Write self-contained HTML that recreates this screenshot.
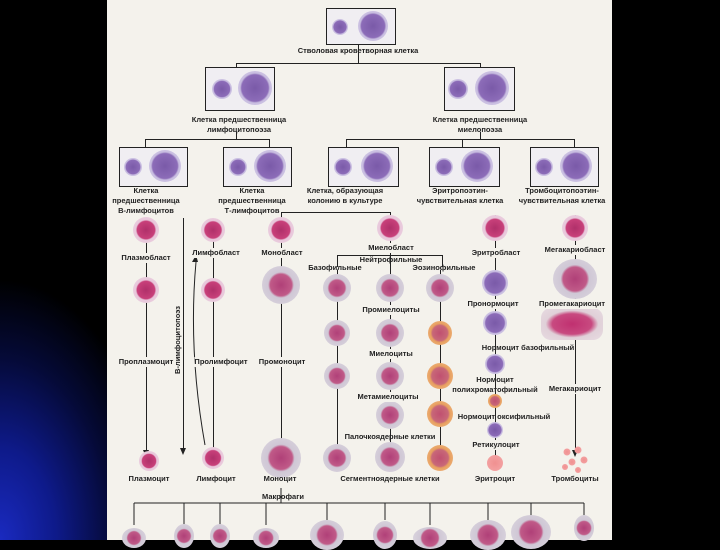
<!DOCTYPE html>
<html><head><meta charset="utf-8"><style>
html,body{margin:0;padding:0}
body{width:720px;height:540px;position:relative;overflow:hidden;background:#000;font-family:"Liberation Sans","DejaVu Sans",sans-serif}
#bg{position:absolute;left:0;top:0;width:108px;height:540px;background:radial-gradient(ellipse 160px 260px at 0% 100%,#1a2ac0 0%,#0e1a8a 35%,#050a38 70%,#000 100%)}
#panel{position:absolute;left:107px;top:0;width:505px;height:540px;background:#f4f2ec}
.b{position:absolute;border:1.5px solid #222;background:#f0eef2}
.c{position:absolute;border-radius:50%;transform:translate(-50%,-50%)}
.p{background:radial-gradient(circle,#b0306a 0%,#c8407a 48%,#e8c6da 55%,#ecd8e4 100%)}
.v{background:radial-gradient(circle,#7a5aa8 0%,#8c6cb8 55%,#c8bde0 62%,#dcd4ec 100%)}
.g{background:radial-gradient(circle,#b04078 0%,#c05a88 40%,#cfc7d5 48%,#ddd8e0 100%)}
.o{background:radial-gradient(circle,#c05070 0%,#c86878 45%,#e8a060 55%,#f0c090 100%)}
.r{background:radial-gradient(circle,#f09090 0%,#f4a8a8 100%)}
.l{position:absolute;background:#222}
.t{position:absolute;font-size:7.5px;font-weight:bold;color:#222;white-space:nowrap;transform:translateX(-50%);line-height:10px;text-align:center}
</style></head><body>
<div id="bg"></div>
<div id="panel"></div>

<div class="l" style="left:358px;top:44px;width:1px;height:19px"></div>
<div class="l" style="left:236px;top:63px;width:244px;height:1px"></div>
<div class="l" style="left:236px;top:63px;width:1px;height:4px"></div>
<div class="l" style="left:480px;top:63px;width:1px;height:4px"></div>
<div class="l" style="left:236px;top:132px;width:1px;height:7px"></div>
<div class="l" style="left:480px;top:132px;width:1px;height:7px"></div>
<div class="l" style="left:145px;top:139px;width:124px;height:1px"></div>
<div class="l" style="left:145px;top:139px;width:1px;height:8px"></div>
<div class="l" style="left:269px;top:139px;width:1px;height:8px"></div>
<div class="l" style="left:346px;top:139px;width:228px;height:1px"></div>
<div class="l" style="left:346px;top:139px;width:1px;height:8px"></div>
<div class="l" style="left:462px;top:139px;width:1px;height:8px"></div>
<div class="l" style="left:574px;top:139px;width:1px;height:8px"></div>
<div class="l" style="left:281px;top:212px;width:109px;height:1px"></div>
<div class="l" style="left:281px;top:212px;width:1px;height:6px"></div>
<div class="l" style="left:390px;top:212px;width:1px;height:6px"></div>
<div class="l" style="left:337px;top:255px;width:105px;height:1px"></div>
<div class="l" style="left:337px;top:255px;width:1px;height:12px"></div>
<div class="l" style="left:442px;top:255px;width:1px;height:12px"></div>
<div class="l" style="left:146px;top:240px;width:1px;height:210px"></div>
<div class="l" style="left:183px;top:218px;width:1px;height:230px"></div>
<div class="l" style="left:213px;top:240px;width:1px;height:210px"></div>
<div class="l" style="left:281px;top:240px;width:1px;height:200px"></div>
<div class="l" style="left:337px;top:270px;width:1px;height:180px"></div>
<div class="l" style="left:390px;top:240px;width:1px;height:210px"></div>
<div class="l" style="left:440px;top:270px;width:1px;height:180px"></div>
<div class="l" style="left:495px;top:215px;width:1px;height:245px"></div>
<div class="l" style="left:575px;top:215px;width:1px;height:235px"></div>
<svg style="position:absolute;left:0;top:0" width="720" height="540">
<g fill="#222">
<polygon points="143,450 149,450 146,457"/><polygon points="180,448 186,448 183,455"/>
<polygon points="210,450 216,450 213,457"/><polygon points="278,440 284,440 281,447"/>
<polygon points="572,450 578,450 575,457"/><polygon points="192,262 198,262 196,255"/>
</g>
<path d="M205,445 Q188,350 196,262" stroke="#222" fill="none"/>
<g stroke="#222" fill="none">
<line x1="281" y1="488" x2="281" y2="503"/>
<line x1="134" y1="503" x2="584" y2="503"/>
<line x1="134" y1="503" x2="134" y2="525"/><line x1="184" y1="503" x2="184" y2="525"/>
<line x1="220" y1="503" x2="220" y2="525"/><line x1="266" y1="503" x2="266" y2="525"/>
<line x1="327" y1="503" x2="327" y2="520"/><line x1="385" y1="503" x2="385" y2="520"/>
<line x1="430" y1="503" x2="430" y2="525"/><line x1="488" y1="503" x2="488" y2="520"/>
<line x1="531" y1="503" x2="531" y2="520"/><line x1="584" y1="503" x2="584" y2="520"/>
</g>
</svg>

<div class="b" style="left:326px;top:8px;width:68px;height:35px"></div>
<div class="b" style="left:205px;top:67px;width:68px;height:42px"></div>
<div class="b" style="left:444px;top:67px;width:69px;height:42px"></div>
<div class="b" style="left:119px;top:147px;width:67px;height:38px"></div>
<div class="b" style="left:223px;top:147px;width:67px;height:38px"></div>
<div class="b" style="left:328px;top:147px;width:69px;height:38px"></div>
<div class="b" style="left:429px;top:147px;width:69px;height:38px"></div>
<div class="b" style="left:530px;top:147px;width:67px;height:38px"></div>

<div class="c v" style="left:340px;top:27px;width:16px;height:16px"></div>
<div class="c v" style="left:373px;top:26px;width:30px;height:30px"></div>
<div class="c v" style="left:222px;top:89px;width:20px;height:20px"></div>
<div class="c v" style="left:255px;top:88px;width:34px;height:34px"></div>
<div class="c v" style="left:458px;top:89px;width:20px;height:20px"></div>
<div class="c v" style="left:492px;top:88px;width:34px;height:34px"></div>
<div class="c v" style="left:133px;top:167px;width:18px;height:18px"></div>
<div class="c v" style="left:165px;top:166px;width:32px;height:32px"></div>
<div class="c v" style="left:238px;top:167px;width:18px;height:18px"></div>
<div class="c v" style="left:270px;top:166px;width:32px;height:32px"></div>
<div class="c v" style="left:343px;top:167px;width:18px;height:18px"></div>
<div class="c v" style="left:377px;top:166px;width:32px;height:32px"></div>
<div class="c v" style="left:444px;top:167px;width:18px;height:18px"></div>
<div class="c v" style="left:477px;top:166px;width:32px;height:32px"></div>
<div class="c v" style="left:544px;top:167px;width:18px;height:18px"></div>
<div class="c v" style="left:576px;top:166px;width:32px;height:32px"></div>

<div class="c p" style="left:146px;top:230px;width:26px;height:26px"></div>
<div class="c p" style="left:146px;top:290px;width:26px;height:26px"></div>
<div class="c p" style="left:149px;top:461px;width:20px;height:20px"></div>
<div class="c p" style="left:213px;top:230px;width:24px;height:24px"></div>
<div class="c p" style="left:213px;top:290px;width:24px;height:24px"></div>
<div class="c p" style="left:213px;top:458px;width:22px;height:22px"></div>
<div class="c p" style="left:281px;top:230px;width:26px;height:26px"></div>
<div class="c g" style="left:281px;top:285px;width:38px;height:38px"></div>
<div class="c g" style="left:281px;top:458px;width:40px;height:40px"></div>
<div class="c p" style="left:390px;top:228px;width:26px;height:26px"></div>
<div class="c g" style="left:337px;top:288px;width:28px;height:28px"></div>
<div class="c g" style="left:337px;top:333px;width:26px;height:26px"></div>
<div class="c g" style="left:337px;top:376px;width:26px;height:26px"></div>
<div class="c g" style="left:337px;top:458px;width:28px;height:28px"></div>
<div class="c g" style="left:390px;top:288px;width:28px;height:28px"></div>
<div class="c g" style="left:390px;top:333px;width:28px;height:28px"></div>
<div class="c g" style="left:390px;top:376px;width:28px;height:28px"></div>
<div class="c g" style="left:390px;top:415px;width:28px;height:28px"></div>
<div class="c g" style="left:390px;top:457px;width:30px;height:30px"></div>
<div class="c g" style="left:440px;top:288px;width:28px;height:28px"></div>
<div class="c o" style="left:440px;top:333px;width:24px;height:24px"></div>
<div class="c o" style="left:440px;top:376px;width:26px;height:26px"></div>
<div class="c o" style="left:440px;top:414px;width:26px;height:26px"></div>
<div class="c o" style="left:440px;top:458px;width:26px;height:26px"></div>
<div class="c p" style="left:495px;top:228px;width:26px;height:26px"></div>
<div class="c v" style="left:495px;top:283px;width:26px;height:26px"></div>
<div class="c v" style="left:495px;top:323px;width:24px;height:24px"></div>
<div class="c v" style="left:495px;top:364px;width:20px;height:20px"></div>
<div class="c o" style="left:495px;top:401px;width:14px;height:14px"></div>
<div class="c v" style="left:495px;top:430px;width:16px;height:16px"></div>
<div class="c r" style="left:495px;top:463px;width:16px;height:16px"></div>
<div class="c p" style="left:575px;top:228px;width:26px;height:26px"></div>
<div class="c g" style="left:575px;top:279px;width:44px;height:40px"></div>
<div class="c g" style="left:572px;top:324px;width:62px;height:32px;border-radius:10px;background:radial-gradient(ellipse,#c03070 0%,#c84a80 45%,#e0d0d8 60%,#e8dce2 100%)"></div>
<div class="c r" style="left:567px;top:452px;width:7px;height:7px"></div>
<div class="c r" style="left:578px;top:450px;width:7px;height:7px"></div>
<div class="c r" style="left:572px;top:462px;width:7px;height:7px"></div>
<div class="c r" style="left:584px;top:460px;width:7px;height:7px"></div>
<div class="c r" style="left:565px;top:467px;width:6px;height:6px"></div>
<div class="c r" style="left:578px;top:470px;width:6px;height:6px"></div>

<div class="c g" style="left:134px;top:538px;width:24px;height:20px"></div>
<div class="c g" style="left:184px;top:536px;width:20px;height:24px"></div>
<div class="c g" style="left:220px;top:536px;width:20px;height:24px"></div>
<div class="c g" style="left:266px;top:538px;width:26px;height:20px"></div>
<div class="c g" style="left:327px;top:535px;width:34px;height:30px"></div>
<div class="c g" style="left:385px;top:535px;width:24px;height:28px"></div>
<div class="c g" style="left:430px;top:538px;width:34px;height:22px"></div>
<div class="c g" style="left:488px;top:535px;width:36px;height:30px"></div>
<div class="c g" style="left:531px;top:532px;width:40px;height:34px"></div>
<div class="c g" style="left:584px;top:528px;width:20px;height:26px"></div>

<div class="t" style="left:358px;top:46px">Стволовая кроветворная клетка</div>
<div class="t" style="left:239px;top:115px">Клетка предшественница<br>лимфоцитопоэза</div>
<div class="t" style="left:480px;top:115px">Клетка предшественница<br>миелопоэза</div>
<div class="t" style="left:146px;top:186px">Клетка<br>предшественница<br>В-лимфоцитов</div>
<div class="t" style="left:252px;top:186px">Клетка<br>предшественница<br>Т-лимфоцитов</div>
<div class="t" style="left:345px;top:186px">Клетка, образующая<br>колонию в культуре</div>
<div class="t" style="left:460px;top:186px">Эритропоэтин-<br>чувствительная клетка</div>
<div class="t" style="left:562px;top:186px">Тромбоцитопоэтин-<br>чувствительная клетка</div>
<div class="t" style="left:146px;top:253px;background:#f4f2ec">Плазмобласт</div>
<div class="t" style="left:146px;top:357px;background:#f4f2ec">Проплазмоцит</div>
<div class="t" style="left:149px;top:474px">Плазмоцит</div>
<div class="t" style="left:178px;top:340px;transform:translate(-50%,-50%) rotate(-90deg)">В-лимфоцитопоэз</div>
<div class="t" style="left:216px;top:248px;background:#f4f2ec">Лимфобласт</div>
<div class="t" style="left:221px;top:357px;background:#f4f2ec">Пролимфоцит</div>
<div class="t" style="left:216px;top:474px">Лимфоцит</div>
<div class="t" style="left:282px;top:248px;background:#f4f2ec">Монобласт</div>
<div class="t" style="left:282px;top:357px;background:#f4f2ec">Промоноцит</div>
<div class="t" style="left:280px;top:474px">Моноцит</div>
<div class="t" style="left:283px;top:492px">Макрофаги</div>
<div class="t" style="left:391px;top:243px;background:#f4f2ec">Миелобласт</div>
<div class="t" style="left:391px;top:255px">Нейтрофильные</div>
<div class="t" style="left:335px;top:263px">Базофильные</div>
<div class="t" style="left:444px;top:263px">Эозинофильные</div>
<div class="t" style="left:391px;top:305px;background:#f4f2ec">Промиелоциты</div>
<div class="t" style="left:391px;top:349px;background:#f4f2ec">Миелоциты</div>
<div class="t" style="left:388px;top:392px;background:#f4f2ec">Метамиелоциты</div>
<div class="t" style="left:390px;top:432px">Палочкоядерные клетки</div>
<div class="t" style="left:390px;top:474px">Сегментноядерные клетки</div>
<div class="t" style="left:496px;top:248px;background:#f4f2ec">Эритробласт</div>
<div class="t" style="left:493px;top:299px;background:#f4f2ec">Пронормоцит</div>
<div class="t" style="left:528px;top:343px">Нормоцит базофильный</div>
<div class="t" style="left:495px;top:375px">Нормоцит<br>полихроматофильный</div>
<div class="t" style="left:504px;top:412px">Нормоцит оксифильный</div>
<div class="t" style="left:496px;top:440px;background:#f4f2ec">Ретикулоцит</div>
<div class="t" style="left:495px;top:474px">Эритроцит</div>
<div class="t" style="left:575px;top:245px;background:#f4f2ec">Мегакариобласт</div>
<div class="t" style="left:572px;top:299px;background:#f4f2ec">Промегакариоцит</div>
<div class="t" style="left:575px;top:384px;background:#f4f2ec">Мегакариоцит</div>
<div class="t" style="left:575px;top:474px">Тромбоциты</div>
</body></html>
